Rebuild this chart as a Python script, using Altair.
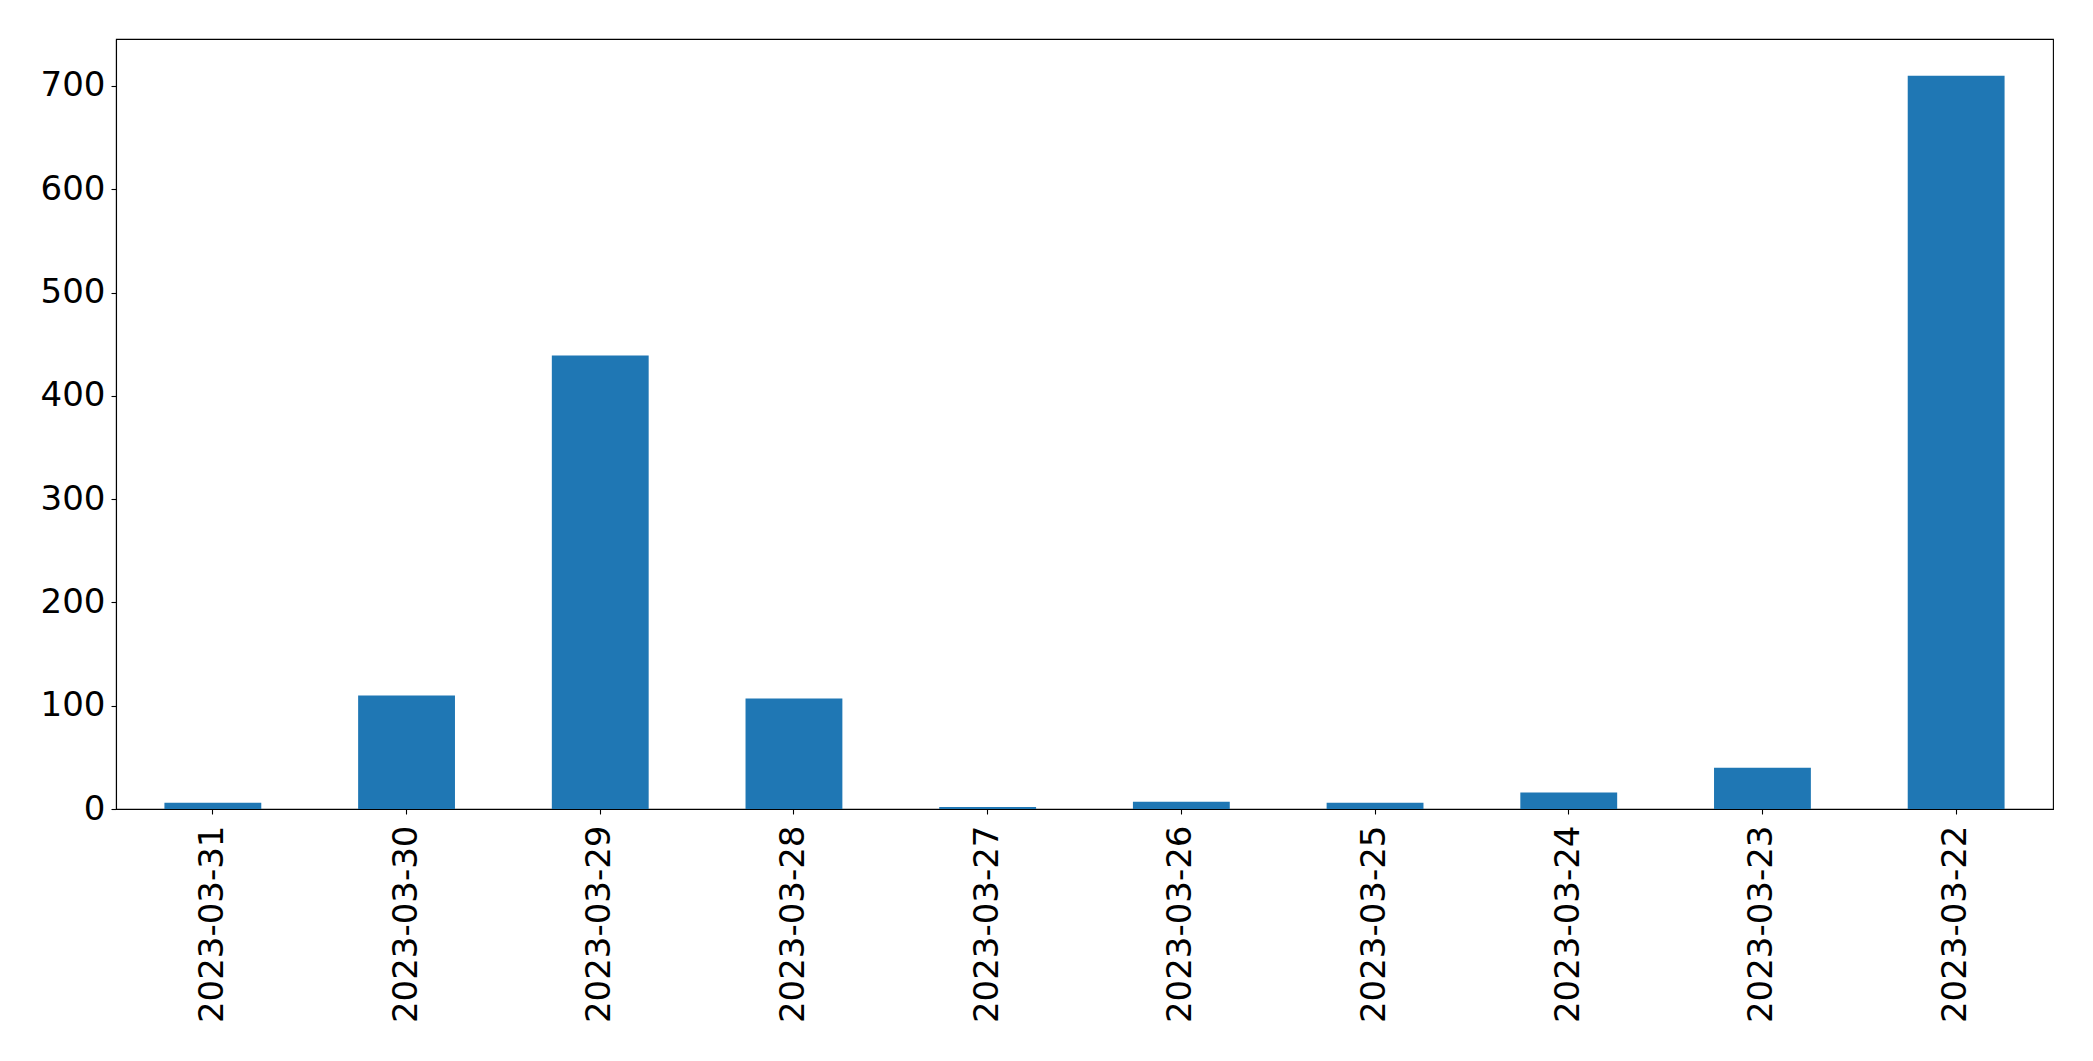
import altair as alt
import pandas as pd

dates = ["2023-03-31", "2023-03-30", "2023-03-29", "2023-03-28", "2023-03-27",
         "2023-03-26", "2023-03-25", "2023-03-24", "2023-03-23", "2023-03-22"]
counts = [6, 110, 439, 107, 2, 7, 6, 16, 40, 710]
y_ticks = [0, 100, 200, 300, 400, 500, 600, 700]

df = pd.DataFrame({"date": dates, "count": counts})

FONT = "DejaVu Sans"

chart = alt.Chart(df).mark_bar(color="#1f77b4").encode(
    x=alt.X("date:N", sort=dates, title=None,
            scale=alt.Scale(paddingInner=0.5, paddingOuter=0.25),
            axis=alt.Axis(labelAngle=270, labelAlign="right", labelBaseline="middle",
                          labelFontSize=34, labelFont=FONT, labelColor="black",
                          labelPadding=11, tickSize=5, tickColor="black", tickWidth=1.1,
                          domainColor="black", domainWidth=1.1, grid=False,
                          labelOverlap=False, labelLimit=500)),
    y=alt.Y("count:Q", title=None,
            scale=alt.Scale(domain=[0, 745.5], nice=False, zero=True),
            axis=alt.Axis(values=y_ticks, labelFontSize=34, labelFont=FONT,
                          labelColor="black", labelPadding=6, tickSize=5,
                          tickColor="black", tickWidth=1.1, domainColor="black",
                          domainWidth=1.1, grid=False, labelLimit=500)),
).properties(
    width=1937, height=770,
    padding={"left": 108, "top": 31, "right": 20, "bottom": 240},
    autosize=alt.AutoSizeParams(type="none"),
    background="white",
).configure_view(
    stroke="black", strokeWidth=1.1
)

chart.save("out.html", embed_options={"renderer": "svg", "actions": False})
